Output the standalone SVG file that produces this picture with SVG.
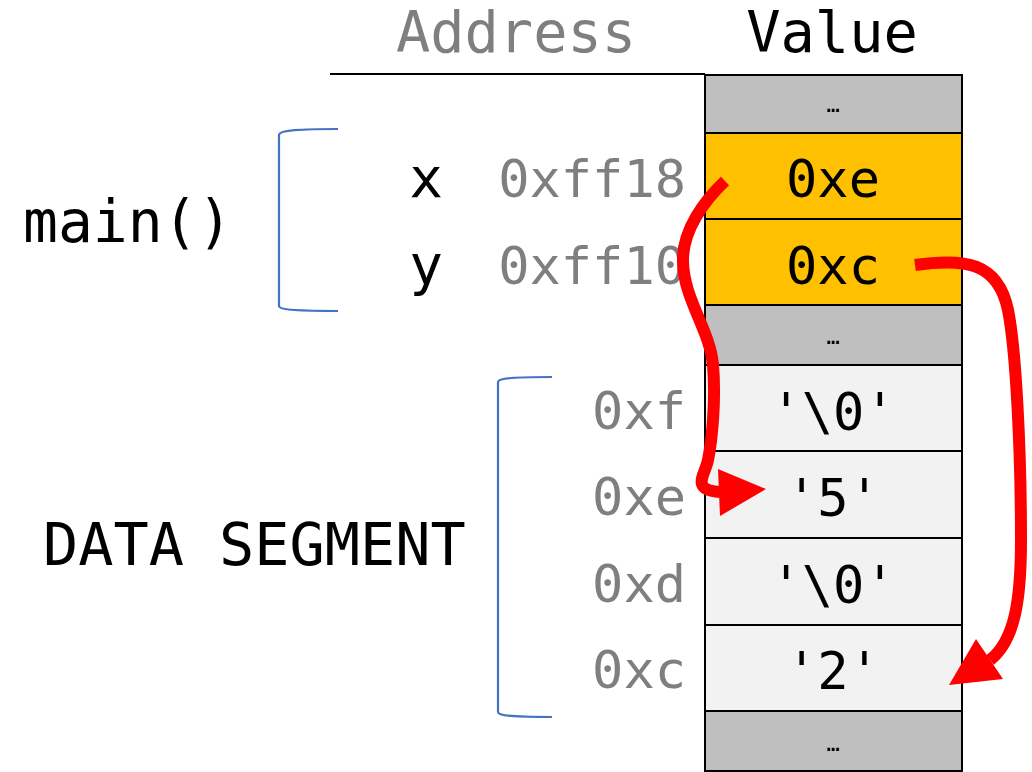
<svg xmlns="http://www.w3.org/2000/svg" width="1032" height="772" viewBox="0 0 1032 772">
<style>
.t{font-family:"DejaVu Sans Mono","Liberation Mono",monospace;fill:#000}
.g{fill:#7F7F7F}
.addr{font-size:52px;text-anchor:end}
.val{font-size:52px;text-anchor:middle}
.dots{font-size:22px;text-anchor:middle}
.cell{stroke:#000;stroke-width:2}
.gray{fill:#BFBFBF}
.orange{fill:#FFC000}
.light{fill:#F2F2F2}
.br{fill:none;stroke:#4472C4;stroke-width:2.2}
.arr{fill:none;stroke:#FF0000;stroke-width:12;stroke-linecap:butt;stroke-linejoin:round}
.head{fill:#FF0000}
</style>
<rect width="1032" height="772" fill="#fff"/>
<g id="header">
<text class="t g" x="516" y="52" font-size="57" text-anchor="middle">Address</text>
<text class="t" x="832" y="52" font-size="57" text-anchor="middle">Value</text>
<line x1="330" y1="74" x2="705" y2="74" stroke="#000" stroke-width="2"/>
</g>
<g id="main-label">
<text class="t" x="23" y="242" font-size="58">main()</text>
<path class="br" d="M338,129 C300,129 279,130 279,135 L279,306 C279,310 300,311 338,311"/>
</g>
<g id="data-label">
<text class="t" x="43" y="565" font-size="58.5">DATA SEGMENT</text>
<path class="br" d="M552,377 C515,377 498,378 498,382 L498,712 C498,716 515,717 552,717"/>
</g>
<g id="var-x">
<text class="t" x="426" y="197" font-size="56" text-anchor="middle">x</text>
<text class="t g addr" x="686" y="197">0xff18</text>
</g>
<g id="var-y">
<text class="t" x="426" y="284" font-size="56" text-anchor="middle">y</text>
<text class="t g addr" x="686" y="284">0xff10</text>
</g>
<g id="addr-data">
<text class="t g addr" x="686" y="429">0xf</text>
<text class="t g addr" x="686" y="515">0xe</text>
<text class="t g addr" x="686" y="602">0xd</text>
<text class="t g addr" x="686" y="688">0xc</text>
</g>
<g id="cell-top">
<rect class="cell gray" x="705" y="75" width="257" height="58"/>
<text class="t dots" x="833" y="112">…</text>
</g>
<g id="cell-x">
<rect class="cell orange" x="705" y="133" width="257" height="86"/>
<text class="t val" x="833" y="197">0xe</text>
</g>
<g id="cell-y">
<rect class="cell orange" x="705" y="219" width="257" height="86"/>
<text class="t val" x="833" y="284">0xc</text>
</g>
<g id="cell-gap">
<rect class="cell gray" x="705" y="305" width="257" height="60"/>
<text class="t dots" x="833" y="344">…</text>
</g>
<g id="cell-0xf">
<rect class="cell light" x="705" y="365" width="257" height="86"/>
<text class="t val" x="833" y="430">'\0'</text>
</g>
<g id="cell-0xe">
<rect class="cell light" x="705" y="451" width="257" height="87"/>
<text class="t val" x="833" y="516">'5'</text>
</g>
<g id="cell-0xd">
<rect class="cell light" x="705" y="538" width="257" height="87"/>
<text class="t val" x="833" y="603">'\0'</text>
</g>
<g id="cell-0xc">
<rect class="cell light" x="705" y="625" width="257" height="86"/>
<text class="t val" x="833" y="689">'2'</text>
</g>
<g id="cell-bottom">
<rect class="cell gray" x="705" y="711" width="257" height="60"/>
<text class="t dots" x="833" y="751">…</text>
</g>
<g id="connectors">
<path class="arr" d="M725,181 C705,200 682,230 683,262 C684,300 710,330 713,365 C716,400 712,440 708,460 C705,475 690,490 720,492"/>
<polygon class="head" points="718,469 766,489 720,516"/>
<path class="arr" d="M915,265 C965,258 998,262 1008,310 C1016,350 1021,450 1021,540 C1021,600 1015,640 990,660"/>
<polygon class="head" points="976,639 1003,679 949,685"/>
</g>
</svg>
